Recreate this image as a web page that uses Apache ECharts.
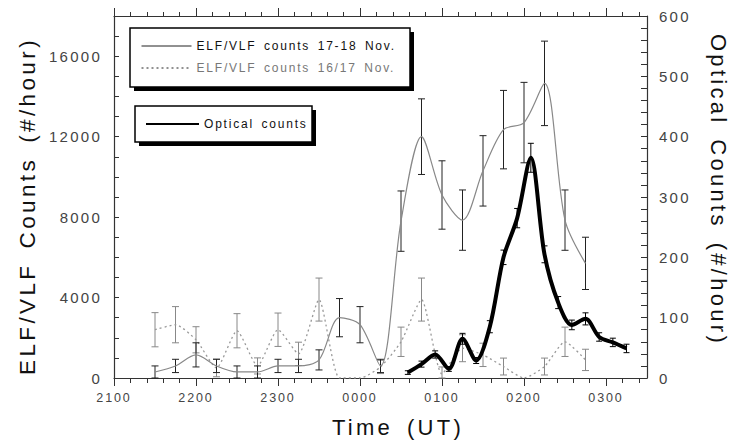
<!DOCTYPE html>
<html>
<head>
<meta charset="utf-8">
<script src="https://cdn.jsdelivr.net/npm/echarts@6/dist/echarts.min.js"></script>
<style>
  html, body { margin: 0; padding: 0; background: #fff; }
  #chart { width: 737px; height: 445px; }
  /* reference text is set wide */
  #chart svg text { letter-spacing: 0.15em; word-spacing: 0.2em; }
</style>
</head>
<body>
<div id="chart"></div>
<script>
// ELF/VLF counts, every 15 min (#/hour)
const elfTimes = ['2130', '2145', '2200', '2215', '2230', '2245', '2300', '2315', '2330', '2345', '0000',
  '0015', '0030', '0045', '0100', '0115', '0130', '0145', '0200', '0215', '0230', '0245']
const nov1718 = [300, 600, 1150, 600, 300, 300, 600, 600, 900, 3000, 2650,
  600, 7800, 12000, 9100, 7850, 10300, 12350, 12700, 14650, 7850, 5700]
const nov1718Err = [300, 330, 600, 330, 300, 300, 330, 330, 500, 950, 900,
  330, 1500, 1880, 1700, 1500, 1750, 1950, 2000, 2100, 1500, 1300]
const nov1617 = [2400, 2650, 1900, 500, 2350, 600, 2400, 1200, 3900, 0, 0,
  550, 1800, 3900, 200, 1480, 1150, 570, 0, 570, 1800, 900]
const nov1617Err = [850, 900, 650, 440, 850, 400, 830, 580, 1070, 0, 0,
  330, 730, 1070, 350, 670, 580, 420, 0, 420, 730, 530]

// optical counts, every 10 min (#/hour)
const opticalTimes = ['0035', '0045', '0055', '0105', '0115', '0125', '0135', '0145', '0155',
  '0205', '0215', '0225', '0235', '0245', '0255', '0305', '0315']
const optical = [9, 23, 39, 15, 65, 29, 85, 200, 265, 365, 205, 125, 88, 98, 68, 59, 49]
const opticalErr = [3, 5, 6, 4, 9, 5, 10, 12, 16, 24, 14, 10, 8, 10, 7, 7, 7]

const xTickLabels = ['2100', '2200', '2300', '0000', '0100', '0200', '0300']

const FONT = "'Liberation Sans', Arial, sans-serif"

// hhmm -> hours since 0000 of the first day (after midnight counts past 24)
function toHours (t) {
  const h = Number(t.slice(0, 2)) + Number(t.slice(2)) / 60
  return h < 12 ? h + 24 : h
}

const majorTicks = xTickLabels.map(toHours)
const minorTicks = []
for (let m = 21 * 60; m < 27.5 * 60; m += 12) {
  if (m % 60) minorTicks.push(m / 60)
}

function pairs (times, vals) {
  return times.map((t, i) => [toHours(t), vals[i]])
}
function errRows (times, vals, errs) {
  return times.map((t, i) => [toHours(t), Math.max(0, vals[i] - errs[i]), vals[i] + errs[i], errs[i]])
}

function errorBar (color, cap) {
  return function (params, api) {
    if (!api.value(3)) return null
    const top = api.coord([api.value(0), api.value(2)])
    const bot = api.coord([api.value(0), api.value(1)])
    const st = { stroke: color, lineWidth: 1 }
    return {
      type: 'group',
      children: [
        { type: 'line', shape: { x1: top[0], y1: top[1], x2: bot[0], y2: bot[1] }, style: st },
        { type: 'line', shape: { x1: top[0] - cap, y1: top[1], x2: top[0] + cap, y2: top[1] }, style: st },
        { type: 'line', shape: { x1: bot[0] - cap, y1: bot[1], x2: bot[0] + cap, y2: bot[1] }, style: st }
      ]
    }
  }
}

function xAxisDef (position, ticks, len, main) {
  return {
    type: 'value',
    position: position,
    min: 21,
    max: 27.5,
    axisLine: { show: main, lineStyle: { color: '#333', width: 1.2 } },
    axisTick: { show: true, inside: false, length: len, customValues: ticks, lineStyle: { color: '#333' } },
    axisLabel: { show: false },
    splitLine: { show: false }
  }
}

const chart = echarts.init(document.getElementById('chart'), null, { renderer: 'svg' })

const bottomMain = xAxisDef('bottom', majorTicks, 8, true)
bottomMain.axisLabel = {
  show: true,
  customValues: majorTicks,
  formatter: v => xTickLabels[majorTicks.indexOf(v)] || '',
  color: '#444',
  fontFamily: FONT,
  fontSize: 12.5,
  margin: 13
}
bottomMain.name = 'Time (UT)'
bottomMain.nameLocation = 'middle'
bottomMain.nameGap = 38
bottomMain.nameTextStyle = { fontFamily: FONT, fontSize: 22, color: '#111', padding: [0, 0, 0, 35] }

const option = {
  animation: false,
  grid: { left: 114, right: 82, top: 16, bottom: 67 },
  xAxis: [
    bottomMain,
    xAxisDef('bottom', minorTicks, 5, false),
    xAxisDef('top', majorTicks, 8, true),
    xAxisDef('top', minorTicks, 4, false)
  ],
  yAxis: [
    {
      type: 'value',
      position: 'left',
      min: 0,
      max: 18000,
      interval: 1000,
      name: 'ELF/VLF Counts (#/hour)',
      nameLocation: 'middle',
      nameRotate: 90,
      nameGap: 75,
      nameTextStyle: { fontFamily: FONT, fontSize: 22.5, color: '#111', padding: [0, 18, 0, 0] },
      axisLine: { show: true, lineStyle: { color: '#333', width: 1.2 } },
      axisTick: { show: true, inside: true, length: 5, lineStyle: { color: '#333' } },
      axisLabel: {
        formatter: v => (v % 4000 === 0 ? String(v) : ''),
        color: '#444',
        fontFamily: FONT,
        fontSize: 15,
        margin: 12
      },
      splitLine: { show: false }
    },
    {
      type: 'value',
      position: 'right',
      min: 0,
      max: 600,
      interval: 20,
      name: 'Optical Counts (#/hour)',
      nameLocation: 'middle',
      nameRotate: -90,
      nameGap: 60,
      nameTextStyle: { fontFamily: FONT, fontSize: 22, color: '#111', padding: [0, 14, 0, 0] },
      axisLine: { show: true, lineStyle: { color: '#333', width: 1.2 } },
      axisTick: { show: true, inside: true, length: 6, lineStyle: { color: '#333' } },
      axisLabel: {
        formatter: v => (v % 100 === 0 ? String(v) : ''),
        color: '#444',
        fontFamily: FONT,
        fontSize: 15,
        margin: 12
      },
      splitLine: { show: false }
    }
  ],
  legend: [
    {
      left: 141,
      top: 40,
      orient: 'vertical',
      itemWidth: 50,
      itemHeight: 14,
      itemGap: 10,
      padding: 0,
      z: 10,
      selectedMode: false,
      itemStyle: { opacity: 0 },
      lineStyle: { color: '#222', width: 1 },
      textStyle: { fontFamily: FONT, fontSize: 12, color: '#111' },
      data: [
        { name: 'ELF/VLF counts 17-18 Nov.' },
        { name: 'ELF/VLF counts 16/17 Nov.', textStyle: { color: '#777' } }
      ]
    },
    {
      left: 145,
      top: 118,
      itemWidth: 53,
      itemHeight: 14,
      padding: 0,
      z: 10,
      selectedMode: false,
      itemStyle: { opacity: 0 },
      textStyle: { fontFamily: FONT, fontSize: 12, color: '#111' },
      data: ['Optical counts']
    }
  ],
  // legend frames with their black drop shadows
  graphic: [
    { type: 'rect', z: 5, shape: { x: 134, y: 32, width: 280, height: 59 }, style: { fill: '#000' } },
    { type: 'rect', z: 6, shape: { x: 130, y: 28, width: 280, height: 59 }, style: { fill: '#fff', stroke: '#000', lineWidth: 1.5 } },
    { type: 'rect', z: 5, shape: { x: 139, y: 110, width: 177, height: 36 }, style: { fill: '#000' } },
    { type: 'rect', z: 6, shape: { x: 135, y: 106, width: 177, height: 36 }, style: { fill: '#fff', stroke: '#000', lineWidth: 1.5 } }
  ],
  series: [
    {
      name: 'ELF/VLF counts 16/17 Nov.',
      type: 'line',
      xAxisIndex: 0,
      yAxisIndex: 0,
      smooth: 0.2,
      symbol: 'none',
      color: '#888',
      lineStyle: { color: '#999', width: 1.3, type: [2, 3] },
      z: 2,
      data: pairs(elfTimes, nov1617)
    },
    {
      name: 'err16/17',
      type: 'custom',
      xAxisIndex: 0,
      yAxisIndex: 0,
      z: 2,
      renderItem: errorBar('#888', 3.5),
      encode: { x: 0, y: [1, 2] },
      data: errRows(elfTimes, nov1617, nov1617Err)
    },
    {
      name: 'ELF/VLF counts 17-18 Nov.',
      type: 'line',
      xAxisIndex: 0,
      yAxisIndex: 0,
      smooth: 0.3,
      symbol: 'none',
      color: '#111',
      lineStyle: { color: '#888', width: 1.2 },
      z: 3,
      data: pairs(elfTimes, nov1718)
    },
    {
      name: 'err17-18',
      type: 'custom',
      xAxisIndex: 0,
      yAxisIndex: 0,
      z: 3,
      renderItem: errorBar('#222', 3.5),
      encode: { x: 0, y: [1, 2] },
      data: errRows(elfTimes, nov1718, nov1718Err)
    },
    {
      name: 'Optical counts',
      type: 'line',
      xAxisIndex: 0,
      yAxisIndex: 1,
      smooth: 0.3,
      symbol: 'none',
      color: '#000',
      lineStyle: { color: '#000', width: 4 },
      z: 4,
      data: pairs(opticalTimes, optical)
    },
    {
      name: 'errOptical',
      type: 'custom',
      xAxisIndex: 0,
      yAxisIndex: 1,
      z: 4,
      renderItem: errorBar('#000', 3),
      encode: { x: 0, y: [1, 2] },
      data: errRows(opticalTimes, optical, opticalErr)
    }
  ]
}

chart.setOption(option)
</script>
</body>
</html>
